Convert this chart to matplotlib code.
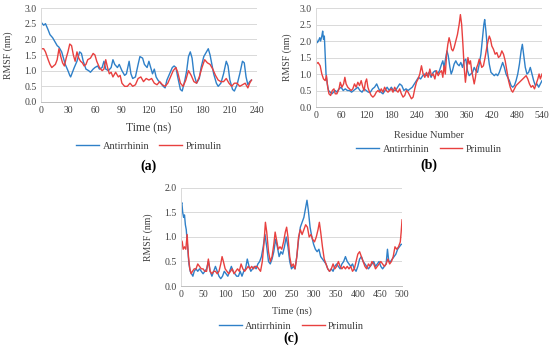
import matplotlib
matplotlib.use("Agg")
import matplotlib.pyplot as plt

# ---- (a) RMSF vs time, 0-240 ns ----
a_blue_x = [0, 3, 5, 8, 10, 13, 16, 18, 20, 23, 25, 27, 30, 32, 33, 35, 37, 40, 43, 45, 47, 50, 53, 55, 58,
            60, 63, 65, 68, 70, 72, 75, 78, 80, 82, 85, 87, 90, 93, 95, 98, 100, 102, 105, 108, 110, 113, 115,
            118, 120, 122, 124, 126, 128, 130, 133, 136, 138, 140, 143, 146, 148, 150, 152, 155, 157, 160, 162,
            164, 166, 168, 170, 173, 176, 178, 181, 184, 186, 188, 190, 192, 195, 197, 200, 203, 206, 208, 210,
            213, 215, 218, 221, 224, 226, 228, 230, 232, 234]
a_blue_y = [2.55, 2.45, 2.5, 2.3, 2.15, 2.05, 1.9, 1.8, 1.75, 1.6, 1.4, 1.2, 1.0, 0.85, 0.8, 0.95, 1.1, 1.3, 1.6,
            1.55, 1.3, 1.05, 1.0, 0.95, 1.05, 1.1, 1.15, 1.05, 1.1, 1.3, 1.05, 1.0, 1.1, 1.35, 1.2, 1.1, 1.2,
            1.0, 0.85, 0.9, 1.3, 0.9, 0.75, 0.8, 1.2, 1.45, 1.4, 1.2, 1.1, 1.3, 1.1, 0.9, 1.05, 0.8, 0.7, 0.6,
            0.5, 0.45, 0.7, 0.9, 1.1, 1.15, 1.1, 0.8, 0.4, 0.35, 0.7, 1.0, 1.45, 1.6, 1.4, 0.9, 0.6, 0.75, 1.1,
            1.45, 1.6, 1.7, 1.5, 1.2, 0.9, 0.6, 0.5, 0.6, 0.9, 1.3, 1.15, 0.7, 0.4, 0.35, 0.55, 0.9, 1.3, 1.25,
            0.8, 0.55, 0.65, 0.7]
a_red_x = [0, 3, 5, 8, 10, 12, 14, 16, 18, 20, 22, 24, 26, 28, 30, 32, 34, 36, 38, 40, 42, 44, 46, 48, 50, 52,
           55, 58, 60, 62, 65, 68, 70, 72, 74, 76, 78, 80, 83, 86, 88, 90, 93, 96, 99, 102, 105, 108, 111, 114,
           117, 120, 123, 126, 129, 132, 135, 138, 141, 144, 147, 150, 152, 155, 158, 161, 164, 167, 170, 173,
           176, 179, 182, 185, 188, 191, 194, 197, 200, 203, 206, 209, 212, 215, 218, 221, 224, 227, 230, 232, 234]
a_red_y = [1.7, 1.7, 1.6, 1.35, 1.2, 1.1, 1.15, 1.2, 1.35, 1.7, 1.45, 1.25, 1.15, 1.4, 1.6, 1.85, 1.8, 1.5, 1.3,
           1.6, 1.4, 1.3, 1.25, 1.15, 1.2, 1.35, 1.4, 1.55, 1.5, 1.3, 1.1, 1.0, 1.05, 1.35, 1.1, 0.9, 0.95, 0.8,
           0.95, 0.8, 0.85, 0.6, 0.5, 0.5, 0.6, 0.5, 0.55, 0.75, 0.8, 0.65, 0.75, 0.7, 0.75, 0.6, 0.55, 0.65,
           0.55, 0.5, 0.6, 0.8, 1.0, 1.1, 0.95, 0.6, 0.5, 0.7, 1.0, 0.85, 0.65, 0.6, 0.8, 1.1, 1.35, 1.25, 1.2,
           1.05, 0.85, 0.7, 0.65, 0.65, 0.75, 0.6, 0.5, 0.6, 0.6, 0.5, 0.55, 0.6, 0.45, 0.6, 0.7]

# ---- (b) RMSF vs residue, 0-540 ----
b_blue_x = [0, 3, 6, 9, 11, 14, 16, 18, 20, 22, 24, 27, 30, 34, 38, 42, 46, 50, 55, 60, 65, 70, 75, 80, 85, 90,
            95, 100, 105, 110, 115, 120, 125, 130, 135, 140, 145, 150, 155, 160, 165, 170, 175, 180, 185, 190,
            195, 200, 205, 210, 215, 220, 225, 230, 235, 240, 245, 250, 255, 260, 265, 270, 275, 280, 285, 290,
            295, 300, 303, 306, 310, 313, 316, 320, 323, 326, 330, 334, 338, 342, 346, 350, 354, 358, 362, 366,
            370, 374, 378, 382, 386, 390, 394, 398, 401, 403, 406, 410, 414, 418, 422, 426, 430, 434, 438, 442,
            446, 450, 454, 458, 462, 466, 470, 474, 478, 482, 486, 490, 493, 496, 500, 504, 508, 512, 516, 520,
            524, 528, 532, 536, 540]
b_blue_y = [2.1, 1.95, 2.0, 2.1, 2.0, 2.15, 2.3, 2.05, 2.15, 1.6, 1.0, 0.7, 0.5, 0.45, 0.4, 0.45, 0.5, 0.45, 0.55,
            0.6, 0.5, 0.55, 0.5, 0.5, 0.45, 0.5, 0.55, 0.6, 0.5, 0.45, 0.55, 0.5, 0.45, 0.45, 0.55, 0.6, 0.7,
            0.55, 0.45, 0.4, 0.5, 0.6, 0.5, 0.6, 0.5, 0.5, 0.6, 0.7, 0.65, 0.5, 0.55, 0.5, 0.55, 0.6, 0.7, 0.8,
            0.9, 0.85, 0.95, 1.0, 0.95, 1.05, 0.9, 1.05, 1.1, 1.0, 1.1, 1.3, 1.4, 1.2, 1.5, 1.7, 1.55, 1.2, 1.0,
            1.1, 1.3, 1.4, 1.3, 1.25, 1.35, 1.2, 1.4, 1.45, 1.1, 0.95, 1.0, 1.05, 1.2, 1.1, 1.05, 1.3, 1.6, 2.1,
            2.5, 2.65, 2.3, 1.7, 1.3, 1.05, 1.0, 0.95, 1.0, 0.95, 1.05, 1.2, 1.35, 1.2, 1.0, 0.9, 0.8, 0.65, 0.6,
            0.65, 0.8, 1.0, 1.3, 1.7, 1.9, 1.6, 1.2, 1.0, 1.05, 1.2, 1.0, 0.8, 0.65, 0.7, 0.6, 0.7, 0.8]
b_red_x = [0, 5, 10, 14, 18, 22, 25, 28, 31, 35, 39, 43, 46, 50, 55, 58, 62, 66, 69, 72, 76, 80, 84, 88, 92, 96,
           100, 104, 108, 112, 115, 118, 121, 124, 128, 132, 136, 140, 144, 148, 152, 156, 160, 164, 168, 172,
           176, 180, 184, 188, 192, 196, 200, 204, 208, 212, 216, 220, 224, 228, 232, 236, 240, 244, 248, 252,
           256, 260, 264, 268, 272, 276, 280, 284, 288, 292, 296, 300, 303, 306, 309, 312, 315, 318, 321, 324,
           327, 330, 334, 338, 342, 345, 348, 351, 354, 357, 360, 363, 366, 369, 372, 375, 378, 381, 384, 387,
           390, 393, 396, 400, 404, 408, 411, 414, 417, 420, 424, 428, 432, 436, 440, 444, 448, 452, 456, 460,
           464, 467, 470, 474, 478, 482, 486, 490, 494, 498, 502, 506, 510, 514, 518, 522, 526, 530, 533, 536, 540]
b_red_y = [1.3, 1.35, 1.25, 1.0, 0.85, 0.8, 0.95, 0.6, 0.4, 0.35, 0.5, 0.55, 0.4, 0.4, 0.55, 0.75, 0.6, 0.7, 0.9,
           0.7, 0.6, 0.55, 0.5, 0.55, 0.7, 0.6, 0.75, 0.65, 0.8, 0.6, 0.5, 0.75, 0.85, 0.6, 0.45, 0.35, 0.3,
           0.35, 0.45, 0.5, 0.45, 0.55, 0.45, 0.6, 0.5, 0.45, 0.5, 0.55, 0.45, 0.6, 0.5, 0.45, 0.55, 0.4, 0.3,
           0.35, 0.5, 0.45, 0.35, 0.25, 0.3, 0.55, 0.75, 0.85, 1.0, 1.25, 1.0, 0.9, 1.05, 0.9, 1.15, 0.95, 1.0,
           0.85, 1.1, 0.95, 1.05, 1.1, 0.9, 1.25, 1.0, 1.6, 1.9, 2.1, 1.95, 1.75, 1.7, 1.8, 2.0, 2.2, 2.5, 2.8,
           2.5, 1.9, 1.2, 0.75, 1.1, 1.5, 1.3, 1.4, 1.1, 0.9, 0.7, 0.9, 1.2, 1.3, 1.45, 1.35, 1.2, 1.25, 1.5,
           1.8, 2.0, 2.15, 2.05, 1.85, 1.75, 1.6, 1.65, 1.5, 1.55, 1.7, 1.6, 1.4, 1.1, 0.8, 0.6, 0.5, 0.45,
           0.55, 0.65, 0.7, 0.75, 0.8, 0.85, 0.9, 0.95, 0.85, 0.7, 0.6, 0.65, 0.55, 0.7, 0.85, 1.0, 0.85, 1.0]

# ---- (c) RMSF vs time, 0-500 ns ----
c_blue_x = [0, 2, 4, 6, 8, 10, 12, 15, 18, 21, 24, 27, 30, 34, 38, 42, 46, 50, 54, 58, 62, 66, 70, 74, 78, 82,
            86, 90, 94, 98, 102, 106, 110, 114, 118, 122, 126, 130, 134, 138, 142, 146, 150, 154, 158, 162, 166,
            170, 174, 178, 182, 186, 190, 194, 198, 202, 206, 210, 214, 218, 222, 226, 230, 234, 238, 242, 246,
            250, 254, 258, 262, 266, 270, 274, 278, 282, 285, 288, 292, 296, 300, 304, 308, 312, 316, 320, 324,
            328, 332, 336, 340, 344, 348, 352, 356, 360, 364, 368, 372, 376, 380, 384, 388, 392, 396, 400, 404,
            408, 412, 416, 420, 424, 428, 432, 436, 440, 444, 448, 452, 456, 460, 464, 467, 470, 474, 478, 482,
            486, 490, 494, 498, 500]
c_blue_y = [1.65, 1.7, 1.5, 1.4, 1.45, 1.25, 1.15, 0.8, 0.45, 0.3, 0.25, 0.2, 0.3, 0.35, 0.3, 0.35, 0.3, 0.25,
            0.3, 0.35, 0.5, 0.3, 0.2, 0.3, 0.4, 0.3, 0.2, 0.15, 0.2, 0.3, 0.25, 0.2, 0.3, 0.4, 0.3, 0.25, 0.2,
            0.2, 0.3, 0.2, 0.3, 0.35, 0.55, 0.4, 0.3, 0.35, 0.4, 0.35, 0.45, 0.5, 0.6, 0.8, 1.05, 0.8, 0.5, 0.45,
            0.55, 0.7, 0.95, 0.8, 0.6, 0.7, 0.65, 0.8, 1.0, 0.8, 0.5, 0.35, 0.4, 0.35, 0.6, 0.95, 1.2, 1.3, 1.4,
            1.6, 1.75, 1.55, 1.2, 1.0, 0.85, 0.75, 0.7, 0.75, 0.6, 0.55, 0.5, 0.45, 0.35, 0.3, 0.35, 0.3, 0.4,
            0.45, 0.4, 0.35, 0.45, 0.5, 0.6, 0.5, 0.45, 0.4, 0.45, 0.35, 0.3, 0.4, 0.55, 0.6, 0.5, 0.45, 0.4,
            0.35, 0.4, 0.45, 0.5, 0.4, 0.45, 0.5, 0.4, 0.35, 0.4, 0.45, 0.75, 0.5, 0.5, 0.55, 0.6, 0.65, 0.75,
            0.8, 0.85, 0.85]
c_red_x = [0, 3, 5, 8, 11, 14, 17, 20, 23, 26, 30, 34, 38, 42, 46, 50, 54, 58, 62, 66, 70, 74, 78, 82, 86, 90,
           93, 96, 100, 104, 108, 112, 116, 120, 124, 128, 132, 136, 140, 144, 148, 152, 156, 160, 164, 168, 172,
           176, 180, 184, 188, 191, 194, 198, 202, 206, 210, 213, 216, 220, 224, 228, 232, 236, 239, 242, 246,
           250, 254, 258, 262, 266, 270, 274, 278, 282, 286, 290, 294, 298, 302, 306, 310, 313, 316, 320, 324,
           328, 332, 336, 340, 344, 348, 352, 356, 360, 364, 368, 372, 376, 380, 384, 388, 392, 396, 400, 404,
           408, 412, 416, 420, 424, 428, 432, 436, 440, 444, 448, 452, 456, 460, 464, 468, 472, 476, 480, 484,
           488, 492, 496, 498, 500]
c_red_y = [0.95, 0.9, 0.75, 0.8, 0.75, 1.05, 0.6, 0.35, 0.25, 0.3, 0.35, 0.35, 0.45, 0.4, 0.35, 0.35, 0.3, 0.3,
           0.55, 0.3, 0.25, 0.3, 0.3, 0.25, 0.3, 0.45, 0.6, 0.5, 0.35, 0.3, 0.25, 0.3, 0.35, 0.25, 0.3, 0.35,
           0.3, 0.45, 0.35, 0.3, 0.35, 0.4, 0.35, 0.4, 0.35, 0.4, 0.4, 0.35, 0.3, 0.5, 0.9, 1.3, 1.1, 0.7, 0.5,
           0.6, 0.85, 1.1, 0.95, 0.75, 0.8, 0.75, 0.9, 1.1, 1.2, 1.0, 0.6, 0.4, 0.45, 0.35, 0.6, 1.0, 1.15, 1.05,
           1.15, 1.25, 1.2, 1.0, 1.05, 0.95, 0.9, 1.0, 1.15, 1.3, 1.1, 0.8, 0.55, 0.45, 0.35, 0.3, 0.35, 0.45,
           0.35, 0.4, 0.5, 0.4, 0.35, 0.4, 0.35, 0.4, 0.35, 0.4, 0.3, 0.35, 0.5, 0.65, 0.7, 0.6, 0.5, 0.4, 0.35,
           0.45, 0.4, 0.5, 0.45, 0.35, 0.4, 0.45, 0.5, 0.45, 0.4, 0.45, 0.55, 0.45, 0.5, 0.6, 0.8, 0.75, 0.8,
           0.9, 1.1, 1.35]

BLUE = "#2F80C8"
RED = "#E8403F"
GRID = "#D9D9D9"
TXT = "#404040"

plt.rcParams["font.family"] = ["Liberation Serif", "DejaVu Serif"]
plt.rcParams["font.size"] = 7

fig = plt.figure(figsize=(5.5, 3.56), dpi=100)


def style(ax, xmax, xstep, ymax, ystep):
    ax.set_xlim(0, xmax)
    ax.set_ylim(0, ymax)
    ax.set_xticks(range(0, xmax + 1, xstep))
    n = int(round(ymax / ystep))
    ax.set_yticks([i * ystep for i in range(n + 1)])
    ax.yaxis.set_major_formatter(matplotlib.ticker.FormatStrFormatter("%.1f"))
    ax.grid(axis="y", color=GRID, linewidth=0.7)
    ax.set_axisbelow(True)
    for s in ("top", "right"):
        ax.spines[s].set_visible(False)
    ax.spines["left"].set_color(GRID)
    ax.spines["bottom"].set_color("#BFBFBF")
    ax.spines["left"].set_linewidth(0.7)
    ax.spines["bottom"].set_linewidth(0.7)
    ax.tick_params(length=0, pad=3, labelsize=7, colors=TXT)


panels = [
    # rect, blue, red, xmax, xstep, ymax, ystep, xlabel, xlabel y, xlabel size, legend y, ylabel x, tag, tag y
    ([0.0745, 0.7135, 0.3925, 0.264], (a_blue_x, a_blue_y), (a_red_x, a_red_y), 240, 30, 3.0, 0.5,
     "Time (ns)", 128, 8.5, 146, 8, "(a)", 166),
    ([0.5745, 0.6994, 0.411, 0.2781], (b_blue_x, b_blue_y), (b_red_x, b_red_y), 540, 60, 3.0, 0.5,
     "Residue Number", 135, 7.5, 149, 287, "(b)", 165),
    ([0.329, 0.1966, 0.402, 0.2754], (c_blue_x, c_blue_y), (c_red_x, c_red_y), 500, 50, 2.0, 0.5,
     "Time (ns)", 311, 7.5, 326, 148, "(c)", 338),
]

for rect, blue, red, xmax, xstep, ymax, ystep, xlab, xly, xls, legy, ylx, tag, tagy in panels:
    ax = fig.add_axes(rect)
    ax.plot(blue[0], blue[1], color=BLUE, lw=1.0, label="Antirrhinin")
    ax.plot(red[0], red[1], color=RED, lw=1.0, label="Primulin")
    style(ax, xmax, xstep, ymax, ystep)
    # y label placed by its centre in figure pixels
    fig.text(ylx / 550, rect[1] + rect[3] / 2, "RMSF (nm)", rotation=90, ha="center", va="center",
             fontsize=7, color=TXT)
    cx = rect[0] + rect[2] / 2
    fig.text(cx, 1 - xly / 356, xlab, ha="center", va="center", fontsize=xls, color=TXT)
    ax.legend(loc="center", bbox_to_anchor=(cx, 1 - legy / 356), bbox_transform=fig.transFigure,
              ncol=2, frameon=False, fontsize=7.5, handlelength=2.2, columnspacing=1.0,
              handletextpad=0.3, labelcolor=TXT)
    fig.text(cx, 1 - tagy / 356, tag, ha="center", va="center", fontsize=10, fontweight="bold")

fig.savefig("out.png", dpi=100)
